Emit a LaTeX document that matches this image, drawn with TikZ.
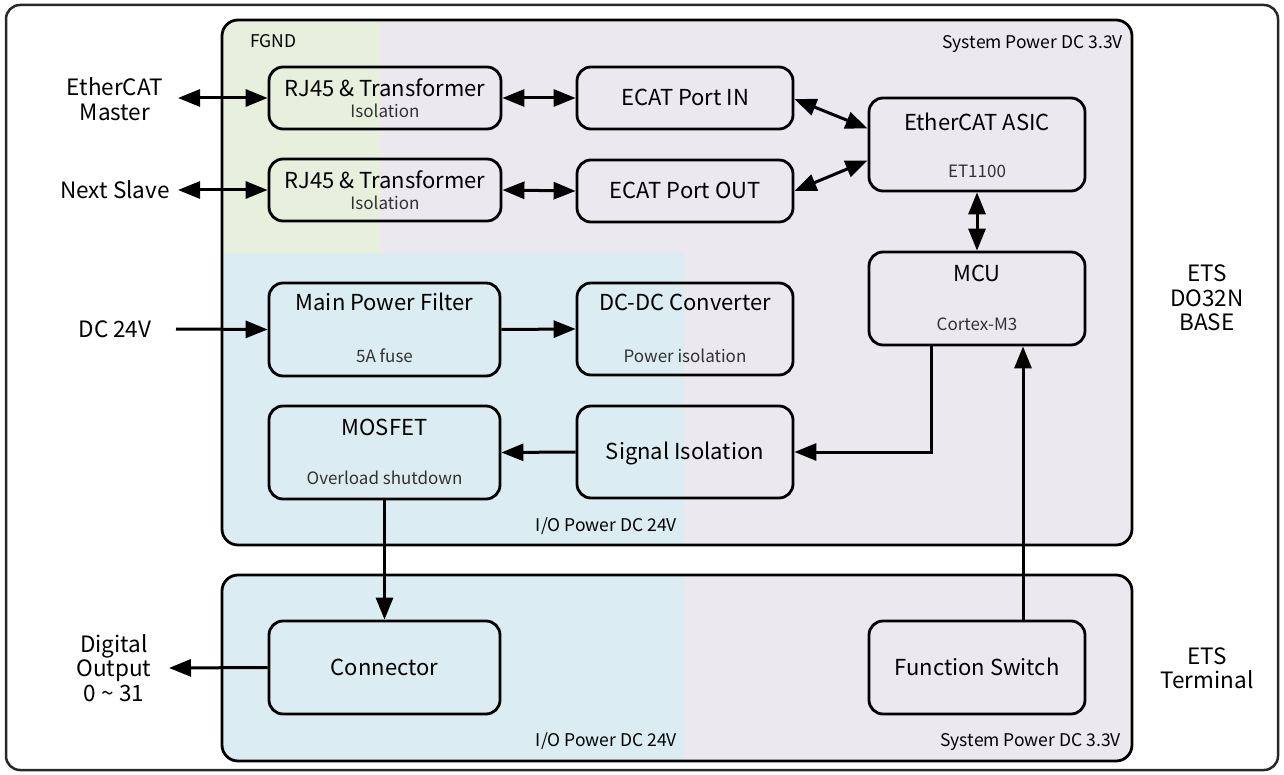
\documentclass[tikz,border=0pt]{standalone}
\usepackage{fontspec}
\setmainfont{Noto Sans CJK KR}
\usetikzlibrary{arrows.meta}
\definecolor{grn}{RGB}{231,239,221}
\definecolor{lav}{RGB}{235,232,240}
\definecolor{blu}{RGB}{219,237,242}
\definecolor{framec}{RGB}{40,40,40}
\definecolor{subc}{RGB}{50,50,50}
\tikzset{
 blk/.style={draw=black, line width=2.8pt, rounded corners=14pt, inner sep=0pt},
 ttl/.style={font=\fontsize{22}{25}\selectfont, inner sep=0pt, text height=15.8pt, text depth=0pt},
 subt/.style={font=\fontsize{17}{20}\selectfont, text=subc, inner sep=0pt, text height=12.3pt, text depth=0pt},
 lbl/.style={font=\fontsize{17.5}{20}\selectfont, inner sep=0pt, text height=12.6pt, text depth=0pt},
 ext/.style={font=\fontsize{22.5}{24.5}\selectfont, align=center, inner sep=0pt},
 arr/.style={line width=3pt, -{Triangle[length=22pt,width=17pt]}},
 darr/.style={line width=3pt, {Triangle[length=22pt,width=17pt]}-{Triangle[length=22pt,width=17pt]}},
 panel/.style={line width=2.8pt, rounded corners=16pt},
}
\begin{document}
\begin{tikzpicture}[x=1pt,y=-1pt]
\useasboundingbox (0,0) rectangle (1284,775);
% outer frame
\draw[framec, line width=2.5pt, rounded corners=14pt] (6,5) rectangle (1278,770);
% upper panel
\begin{scope}
 \clip[rounded corners=16pt] (222,20) rectangle (1132,545);
 \fill[lav] (222,20) rectangle (1132,545);
 \fill[grn] (222,20) rectangle (380,253);
 \fill[blu] (222,253) rectangle (684,545);
\end{scope}
\draw[panel] (222,20) rectangle (1132,545);
% lower panel
\begin{scope}
 \clip[rounded corners=16pt] (222,575) rectangle (1132,761);
 \fill[lav] (222,575) rectangle (1132,761);
 \fill[blu] (222,575) rectangle (684,761);
\end{scope}
\draw[panel] (222,575) rectangle (1132,761);
% panel labels
\node[lbl, anchor=west] (fgnd) at (250,41) {FGND};
\node[lbl, anchor=east] (sp1) at (1123,42) {System Power DC 3.3V};
\node[lbl, anchor=east] (io1) at (677,525) {I/O Power DC 24V};
\node[lbl, anchor=east] (io2) at (677,740) {I/O Power DC 24V};
\node[lbl, anchor=east] (sp2) at (1121,740) {System Power DC 3.3V};
\node[ext] (base) at (1207,298) {ETS\\DO32N\\BASE};
\node[ext] (term) at (1207,668) {ETS\\Terminal};
% boxes
\node[blk, minimum width=232pt, minimum height=62pt] (rj1) at (385,98) {};
\node[ttl] at (385,89) {RJ45 \& Transformer};
\node[subt] at (385,111) {Isolation};
\node[blk, minimum width=232pt, minimum height=62pt] (rj2) at (385,190) {};
\node[ttl] at (385,181) {RJ45 \& Transformer};
\node[subt] at (385,203) {Isolation};
\node[blk, minimum width=216pt, minimum height=62pt] (ein) at (685,98) {};
\node[ttl] at (685,98) {ECAT Port IN};
\node[blk, minimum width=216pt, minimum height=62pt] (eout) at (685,191) {};
\node[ttl] at (685,191) {ECAT Port OUT};
\node[blk, minimum width=216pt, minimum height=93pt] (asic) at (977,144.5) {};
\node[ttl] at (977,123) {EtherCAT ASIC};
\node[subt] at (977,171) {ET1100};
\node[blk, minimum width=231pt, minimum height=93pt] (mpf) at (384.5,329.5) {};
\node[ttl] at (384.5,303) {Main Power Filter};
\node[subt] at (384.5,356) {5A fuse};
\node[blk, minimum width=216pt, minimum height=92pt] (dcdc) at (685,329) {};
\node[ttl] at (685,303) {DC-DC Converter};
\node[subt] at (685,356) {Power isolation};
\node[blk, minimum width=216pt, minimum height=93pt] (mcu) at (977,298.5) {};
\node[ttl] at (977,274) {MCU};
\node[subt] at (977,324) {Cortex-M3};
\node[blk, minimum width=231pt, minimum height=93pt] (mos) at (384.5,452.5) {};
\node[ttl] at (384.5,428) {MOSFET};
\node[subt] at (384.5,478) {Overload shutdown};
\node[blk, minimum width=216pt, minimum height=92pt] (sig) at (685,452) {};
\node[ttl] at (685,452) {Signal Isolation};
\node[blk, minimum width=231pt, minimum height=93pt] (conn) at (384.5,667.5) {};
\node[ttl] at (384.5,668) {Connector};
\node[blk, minimum width=216pt, minimum height=93pt] (fsw) at (977,667.5) {};
\node[ttl] at (977,668) {Function Switch};
% external texts
\node[ext] (em) at (115,99) {EtherCAT\\Master};
\node[ext] (ns) at (115,190) {Next Slave};
\node[ext] (dc) at (115,329) {DC 24V};
\node[ext] (dout) at (114,668) {Digital\\Output\\0 \textasciitilde{} 31};
\coordinate (emp) at (178,98);
\coordinate (nsp) at (178,190);
\coordinate (dcp) at (176,329);
\coordinate (doutp) at (169,668);
% connectors
\draw[darr] (emp) -- (rj1.west);
\draw[darr] (nsp) -- (rj2.west);
\draw[darr] (rj1.east) -- (ein.west);
\draw[darr] (rj2.east) -- (eout.west);
\draw[darr] ([yshift=-1pt]ein.east) -- ([yshift=16pt]asic.west);
\draw[darr] (eout.east) -- ([yshift=-16pt]asic.west);
\draw[darr] (asic.south) -- (mcu.north);
\draw[arr] (dcp) -- (mpf.west);
\draw[arr] (mpf.east) -- (dcdc.west);
\draw[arr] ([xshift=-46pt]mcu.south) |- (sig.east);
\draw[arr] (sig.west) -- (mos.east);
\draw[arr] (mos.south) -- (conn.north);
\draw[arr] (conn.west) -- (doutp);
\draw[arr] ([xshift=46pt]fsw.north) -- ([xshift=46pt]mcu.south);
\end{tikzpicture}
\end{document}
